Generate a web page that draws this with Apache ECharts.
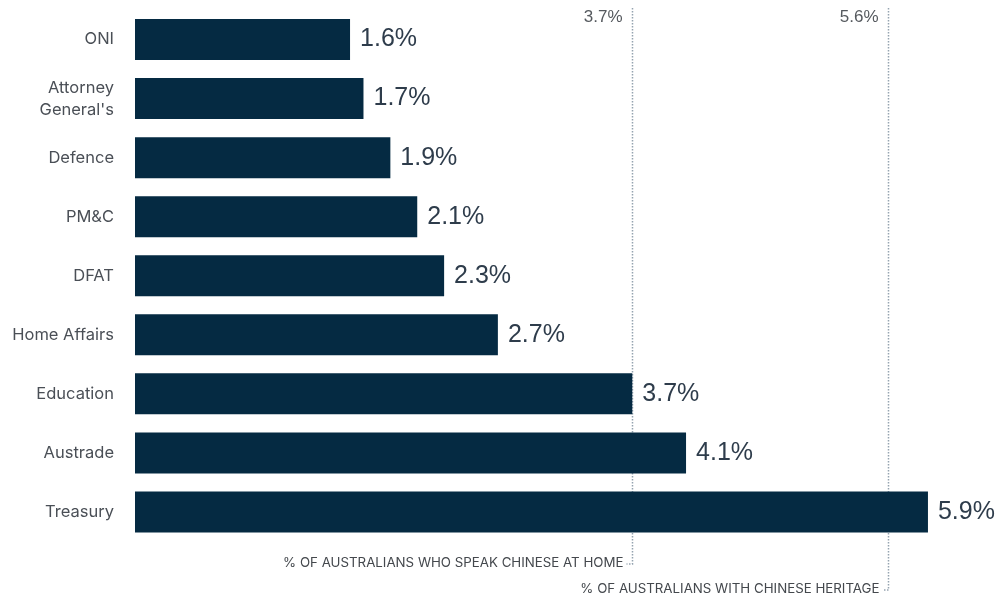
<!DOCTYPE html>
<html><head><meta charset="utf-8">
<script src="https://cdn.jsdelivr.net/npm/echarts@6/dist/echarts.min.js"></script>
<style>html,body{margin:0;padding:0;background:#fff}#c{width:1003px;height:598px}</style>
</head><body><div id="c"></div>
<script>
var categories = ["ONI","Attorney\nGeneral's","Defence","PM&C","DFAT","Home Affairs","Education","Austrade","Treasury"];
var values = [1.6,1.7,1.9,2.1,2.3,2.7,3.7,4.1,5.9];
var refValues = [3.7,5.6];
var refLabels = ["% OF AUSTRALIANS WHO SPEAK CHINESE AT HOME","% OF AUSTRALIANS WITH CHINESE HERITAGE"];
var refEndY = [564,590];

var chart = echarts.init(document.getElementById('c'));
chart.setOption({
  animation:false,
  grid:{left:135,top:10,right:61.6,bottom:56.5,containLabel:false},
  xAxis:{type:'value',min:0,max:6,show:false},
  yAxis:{type:'category',data:categories,inverse:true,
    axisLine:{show:false},axisTick:{show:false},
    axisLabel:{margin:21,color:'#4a4f56',fontSize:16.5,fontFamily:'Inter, sans-serif',lineHeight:22,align:'right'}},
  series:[{type:'bar',data:values,barWidth:41,z:5,itemStyle:{color:'#052a42'},
    label:{show:true,position:'right',distance:10,formatter:function(p){return p.value.toFixed(1)+'%';},
      color:'#2e3c4b',fontSize:25,fontFamily:'Liberation Sans, Arial, sans-serif'}}]
});
var els = [];
refValues.forEach(function(v,i){
  var x = Math.round(chart.convertToPixel({xAxisIndex:0}, v))+0.5;
  var yEnd = refEndY[i];
  els.push({type:'polyline',shape:{points:[[x,8],[x,yEnd],[x-6,yEnd]]},z:0,zlevel:0,
    style:{stroke:'#95a3b0',lineWidth:1.5,lineDash:[1.5,1.5],fill:null}});
  els.push({type:'text',x:x-10,y:17,style:{text:v.toFixed(1)+'%',align:'right',verticalAlign:'middle',
    fill:'#55595e',fontSize:17,fontFamily:'Liberation Sans, Arial, sans-serif'}});
  els.push({type:'text',x:x-9,y:yEnd-1,style:{text:refLabels[i],align:'right',verticalAlign:'middle',
    fill:'#44484d',fontSize:13.3,fontFamily:'Inter, sans-serif'}});
});
chart.setOption({graphic:{elements:els}});
</script></body></html>
